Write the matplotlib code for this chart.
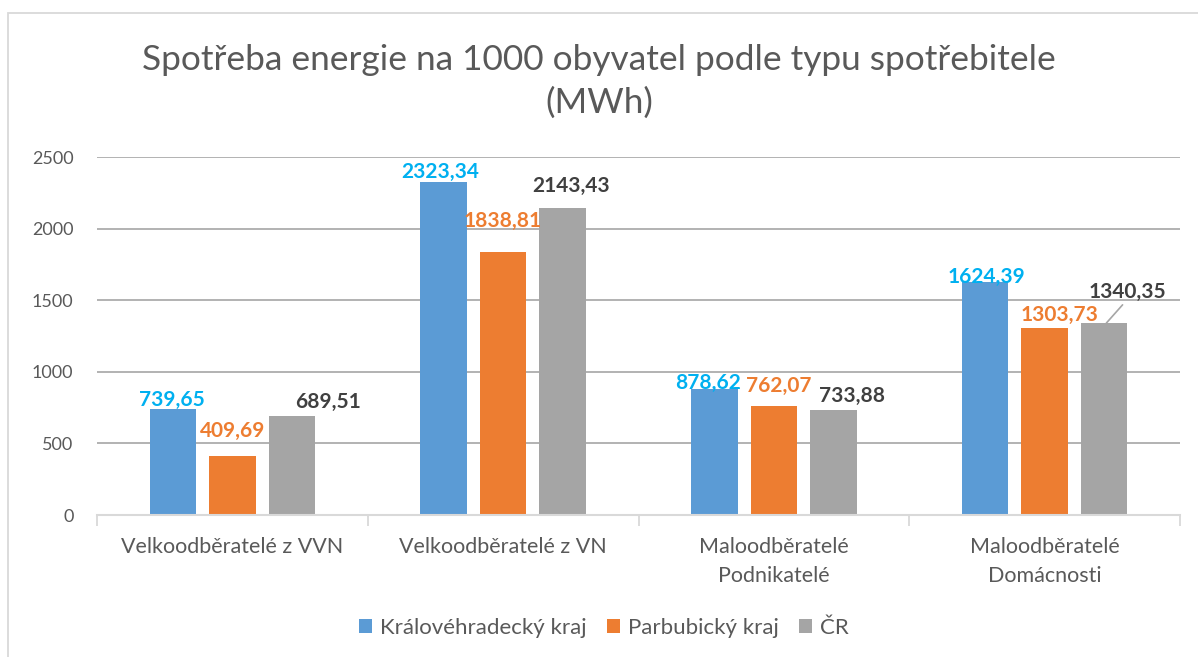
import matplotlib
matplotlib.use("Agg")
import matplotlib.pyplot as plt
from matplotlib.patches import Rectangle
import numpy as np

categories = ["Velkoodběratelé z VVN", "Velkoodběratelé z VN",
              "Maloodběratelé\nPodnikatelé", "Maloodběratelé\nDomácnosti"]
series_names = ["Královéhradecký kraj", "Parbubický kraj", "ČR"]
kralovehradecky = [739.65, 2323.34, 878.62, 1624.39]
pardubicky = [409.69, 1838.81, 762.07, 1303.73]
cr = [689.51, 2143.43, 733.88, 1340.35]
y_ticks = [0, 500, 1000, 1500, 2000, 2500]

bar_colors = ["#5B9BD5", "#ED7D31", "#A5A5A5"]
label_colors = ["#00B0F0", "#ED7D31", "#404040"]
# label offsets in pixels (dx, dy) relative to bar top centre
label_offsets = [
    [(-1, 9), (-3, 10), (-6, 6), (1, 5)],
    [(0, 25), (0, 31), (5, 20), (15, 13)],
    [(36, 14), (8, 22), (19, 14), (21, 31)],
]

plt.rcParams['font.family'] = ['Lato', 'DejaVu Sans']

fig = plt.figure(figsize=(11.98, 6.57), dpi=100)
W, H = 1198, 657
ax = fig.add_axes([97 / W, 1 - 515 / H, (1180 - 97) / W, (515 - 157) / H])

# chart border
fig.patches.append(Rectangle((8 / W, -0.05), 1.1, 1 - 13 / H + 0.05,
                             transform=fig.transFigure, fill=False,
                             edgecolor="#D9D9D9", linewidth=1.3))

data = [kralovehradecky, pardubicky, cr]
x = np.arange(len(categories))
width = 0.172
step = 0.22
for i, vals in enumerate(data):
    xs = x + (i - 1) * step
    ax.bar(xs, vals, width, color=bar_colors[i], label=series_names[i], zorder=3)
    for j, v in enumerate(vals):
        dx, dy = label_offsets[i][j]
        txt = f"{v:.2f}".replace(".", ",")
        kw = {}
        if i == 2 and j == 3:
            kw = dict(arrowprops=dict(arrowstyle='-', color='#A6A6A6', lw=1.2,
                                      shrinkA=0, shrinkB=0, relpos=(0.47, 0.0)))
        ax.annotate(txt, xy=(xs[j] + (0.008 if kw else 0), v), xytext=(dx, dy),
                    textcoords='offset pixels', ha='center', va='center',
                    fontsize=15, fontweight='bold', color=label_colors[i],
                    zorder=5, **kw)

ax.set_xlim(-0.5, 3.5)
ax.set_ylim(0, 2500)
ax.set_yticks(y_ticks)
ax.set_yticklabels([str(t) for t in y_ticks])
ax.yaxis.grid(True, color="#A6A6A6", linewidth=1.2, zorder=0)
ax.set_axisbelow(True)
ax.tick_params(axis='y', length=0, pad=17, labelsize=13, labelcolor="#595959")
ax.set_xticks(x)
ax.set_xticklabels(categories)
ax.tick_params(axis='x', which='major', length=0, pad=16, labelsize=15.5,
               labelcolor="#595959")
ax.set_xticks(np.arange(-0.5, 4, 1), minor=True)
ax.tick_params(axis='x', which='minor', length=8, width=1.3, color="#D9D9D9")
for t in ax.get_xticklabels():
    t.set_linespacing(1.55)
for s in ["left", "right", "top"]:
    ax.spines[s].set_visible(False)
ax.spines["bottom"].set_color("#D9D9D9")
ax.spines["bottom"].set_linewidth(1.5)
ax.spines["bottom"].set_zorder(4)

fig.text(0.5, 1 - 60 / H, "Spotřeba energie na 1000 obyvatel podle typu spotřebitele",
         ha='center', va='center', fontsize=25.4, color="#595959")
fig.text(0.5, 1 - 103 / H, "(MWh)", ha='center', va='center', fontsize=25.4,
         color="#595959")

leg = fig.legend(loc='center', bbox_to_anchor=(0.504, 1 - 628 / H), ncol=3,
                 frameon=False, fontsize=16, handlelength=0.6, handleheight=0.6,
                 handletextpad=0.35, columnspacing=0.9, labelcolor="#595959")

fig.savefig("out.png", dpi=100)
